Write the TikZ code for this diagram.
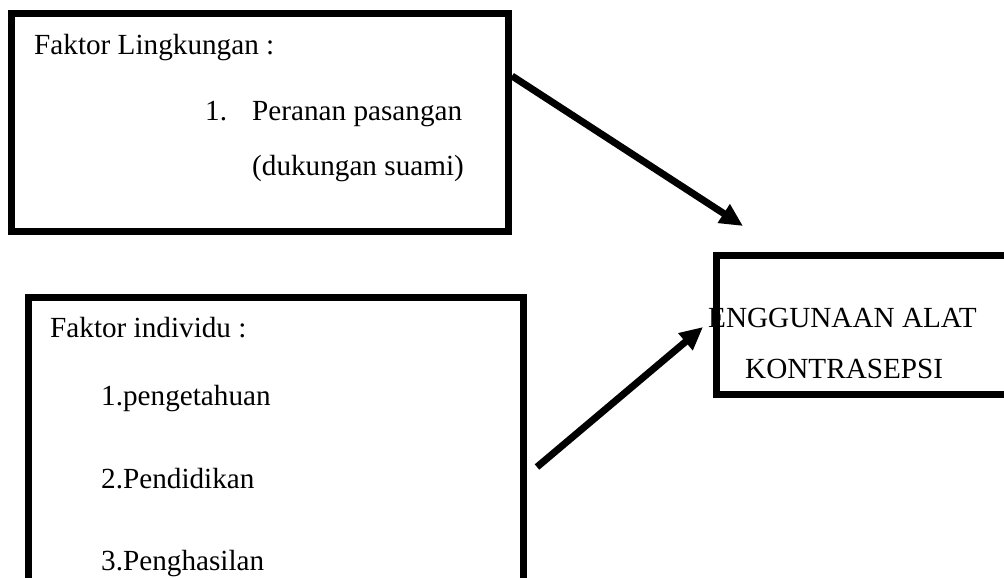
\documentclass[tikz,border=0pt]{standalone}
\usepackage{fontspec}
\setmainfont{Liberation Serif}
\usetikzlibrary{arrows.meta}
\begin{document}
\begin{tikzpicture}[x=1pt,y=-1pt,
		kotak/.style={draw,line width=7pt,inner sep=0pt},
		teks/.style={anchor=base west,inner sep=0pt,font=\fontsize{29.2}{35}\selectfont},
		panah/.style={line width=7pt,-{Triangle[length=23pt,width=21pt]}}]
		\useasboundingbox (0,0) rectangle (1004,578);
		\clip (0,0) rectangle (1004,578);
		\node[teks] (lingkJudul) at (34,55) {Faktor Lingkungan :};
		\node[teks] (lingkSatu) at (205,120) {\makebox[47pt][l]{1.}Peranan pasangan};
		\node[teks] (lingkDua) at (252,175) {(dukungan suami)};
		\node[teks] (indivJudul) at (50,337) {Faktor individu :};
		\node[teks] (indivSatu) at (101,405) {1.pengetahuan};
		\node[teks] (indivDua) at (101,488) {2.Pendidikan};
		\node[teks] (indivTiga) at (101,570) {3.Penghasilan};
		\node[teks] (alatSatu) at (708,327) {ENGGUNAAN ALAT};
		\node[teks] (alatDua) at (745,378) {KONTRASEPSI};
		\node[kotak,minimum width=497pt,minimum height=217pt] (lingkungan) at (260,122.5) {};
		\node[kotak,minimum width=495pt,minimum height=342.5pt] (individu) at (275.5,468.75) {};
		\node[kotak,minimum width=343.5pt,minimum height=139.5pt] (alat) at (888.25,324.75) {};
		\coordinate (lingkOut) at (512,76);
		\coordinate (alatInA) at (743,226);
		\coordinate (indivOut) at (537,467);
		\coordinate (alatInB) at (703,327);
		\draw[panah] (lingkOut)--(alatInA);
		\draw[panah] (indivOut)--(alatInB);
	\end{tikzpicture}
\end{document}
